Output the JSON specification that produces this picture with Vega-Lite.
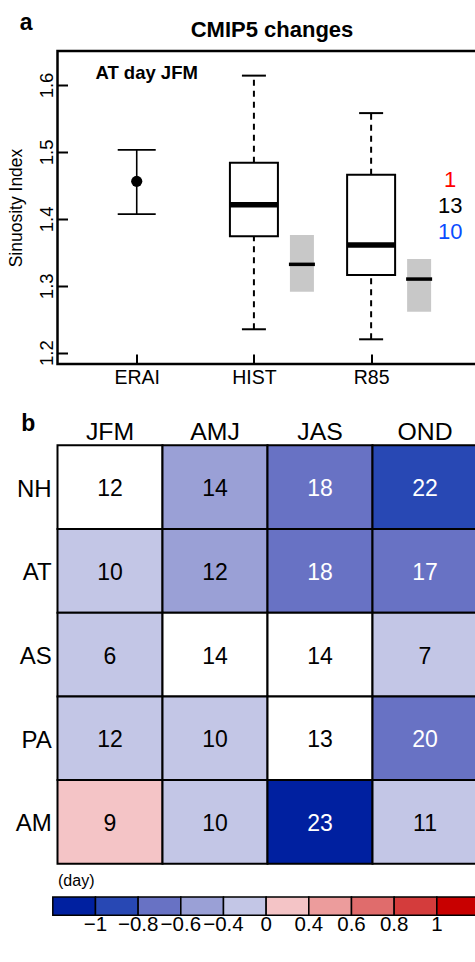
{
  "$schema": "https://vega.github.io/schema/vega-lite/v6.json",
  "background": "white",
  "padding": {"left": 5.5, "top": 10, "right": 0, "bottom": 0},
  "autosize": {"type": "pad"},
  "bounds": "flush",
  "spacing": 81.3,
  "resolve": {"scale": {"color": "independent"}, "legend": {"color": "independent"}},
  "config": {
    "font": "Liberation Sans",
    "view": {"stroke": null},
    "axis": {"labelColor": "black", "titleColor": "black", "grid": false, "labelFont": "Liberation Sans", "titleFont": "Liberation Sans"},
    "title": {"color": "black", "font": "Liberation Sans"},
    "legend": {"labelFont": "Liberation Sans", "titleFont": "Liberation Sans"}
  },
  "datasets": {
    "boxes": [
      {"group": "HIST", "pos": 2, "lower": 1.235, "q1": 1.374, "median": 1.421, "q3": 1.484, "upper": 1.614},
      {"group": "R85", "pos": 3, "lower": 1.220, "q1": 1.316, "median": 1.361, "q3": 1.466, "upper": 1.558}
    ],
    "mme": [
      {"group": "HIST", "pos": 2, "low": 1.291, "mid": 1.332, "high": 1.376},
      {"group": "R85", "pos": 3, "low": 1.261, "mid": 1.310, "high": 1.340}
    ],
    "obs": [
      {"group": "ERAI", "pos": 1, "low": 1.407, "mean": 1.456, "high": 1.503}
    ],
    "counts": [
      {"trend": "increase", "n": 1, "ypos": 1.458},
      {"trend": "no change", "n": 13, "ypos": 1.419},
      {"trend": "decrease", "n": 10, "ypos": 1.380}
    ],
    "cells": [
      {"region": "NH", "season": "JFM", "days": 12, "sdclass": 5, "sig": false},
      {"region": "NH", "season": "AMJ", "days": 14, "sdclass": 4, "sig": true},
      {"region": "NH", "season": "JAS", "days": 18, "sdclass": 3, "sig": true},
      {"region": "NH", "season": "OND", "days": 22, "sdclass": 2, "sig": true},
      {"region": "AT", "season": "JFM", "days": 10, "sdclass": 5, "sig": true},
      {"region": "AT", "season": "AMJ", "days": 12, "sdclass": 4, "sig": true},
      {"region": "AT", "season": "JAS", "days": 18, "sdclass": 3, "sig": true},
      {"region": "AT", "season": "OND", "days": 17, "sdclass": 3, "sig": true},
      {"region": "AS", "season": "JFM", "days": 6, "sdclass": 5, "sig": true},
      {"region": "AS", "season": "AMJ", "days": 14, "sdclass": 5, "sig": false},
      {"region": "AS", "season": "JAS", "days": 14, "sdclass": 5, "sig": false},
      {"region": "AS", "season": "OND", "days": 7, "sdclass": 5, "sig": true},
      {"region": "PA", "season": "JFM", "days": 12, "sdclass": 5, "sig": true},
      {"region": "PA", "season": "AMJ", "days": 10, "sdclass": 5, "sig": true},
      {"region": "PA", "season": "JAS", "days": 13, "sdclass": 5, "sig": false},
      {"region": "PA", "season": "OND", "days": 20, "sdclass": 3, "sig": true},
      {"region": "AM", "season": "JFM", "days": 9, "sdclass": 6, "sig": true},
      {"region": "AM", "season": "AMJ", "days": 10, "sdclass": 5, "sig": true},
      {"region": "AM", "season": "JAS", "days": 23, "sdclass": 1, "sig": true},
      {"region": "AM", "season": "OND", "days": 11, "sdclass": 5, "sig": true}
    ]
  },
  "vconcat": [
    {
      "width": 428,
      "height": 313,
      "view": {"stroke": "black", "strokeWidth": 2.5},
      "title": {"text": "a", "anchor": "start", "frame": "bounds", "fontSize": 23, "fontWeight": "bold", "baseline": "top", "offset": -16, "dx": 12.8},
      "resolve": {"axis": {"x": "independent"}},
      "layer": [
        {
          "data": {"name": "boxes"},
          "mark": {"type": "rule", "strokeDash": [6, 5], "strokeWidth": 2, "color": "black", "opacity": 1},
          "encoding": {
            "x": {"field": "pos", "type": "quantitative", "scale": {"domain": [0.3667, 3.9333], "nice": false, "zero": false},
              "axis": {"orient": "bottom", "values": [1, 2, 3], "labelExpr": "datum.value == 1 ? 'ERAI' : datum.value == 2 ? 'HIST' : 'R85'", "title": null, "domain": false, "grid": false, "tickSize": -10, "tickWidth": 2, "tickColor": "black", "labelFontSize": 19.5, "labelPadding": 14.3}},
            "y": {"field": "q3", "type": "quantitative", "scale": {"domain": [1.1831, 1.6508], "nice": false, "zero": false},
              "axis": {"values": [1.2, 1.3, 1.4, 1.5, 1.6], "format": ".1f", "title": "Sinuosity Index", "titleFontSize": 17.5, "titleFontWeight": "normal", "titlePadding": 12.5, "labelAngle": -90, "labelAlign": "center", "labelBaseline": "bottom", "tickSize": -10, "tickWidth": 2, "tickColor": "black", "domain": false, "grid": false, "labelFontSize": 18.5, "labelPadding": 11}},
            "y2": {"field": "upper"}
          }
        },
        {
          "data": {"name": "boxes"},
          "mark": {"type": "rule", "strokeDash": [6, 5], "strokeWidth": 2, "color": "black", "opacity": 1},
          "encoding": {
            "x": {"field": "pos", "type": "quantitative", "axis": null},
            "y": {"field": "lower", "type": "quantitative"},
            "y2": {"field": "q1"}
          }
        },
        {
          "data": {"name": "boxes"},
          "mark": {"type": "tick", "orient": "horizontal", "size": 24, "thickness": 2, "color": "black", "opacity": 1},
          "encoding": {
            "x": {"field": "pos", "type": "quantitative", "axis": null},
            "y": {"field": "upper", "type": "quantitative"}
          }
        },
        {
          "data": {"name": "boxes"},
          "mark": {"type": "tick", "orient": "horizontal", "size": 24, "thickness": 2, "color": "black", "opacity": 1},
          "encoding": {
            "x": {"field": "pos", "type": "quantitative", "axis": null},
            "y": {"field": "lower", "type": "quantitative"}
          }
        },
        {
          "data": {"name": "boxes"},
          "mark": {"type": "bar", "size": 48, "fill": "white", "stroke": "black", "strokeWidth": 2, "opacity": 1},
          "encoding": {
            "x": {"field": "pos", "type": "quantitative", "axis": null},
            "y": {"field": "q1", "type": "quantitative"},
            "y2": {"field": "q3"}
          }
        },
        {
          "data": {"name": "boxes"},
          "mark": {"type": "tick", "orient": "horizontal", "size": 48, "thickness": 5.5, "color": "black", "opacity": 1},
          "encoding": {
            "x": {"field": "pos", "type": "quantitative", "axis": null},
            "y": {"field": "median", "type": "quantitative"}
          }
        },
        {
          "data": {"name": "mme"},
          "mark": {"type": "bar", "size": 24, "xOffset": 48, "fill": "#c8c8c8", "opacity": 1},
          "encoding": {
            "x": {"field": "pos", "type": "quantitative",
              "axis": {"orient": "top", "title": "CMIP5 changes", "titleFontSize": 22, "titleFontWeight": "bold", "titlePadding": 9.5, "labels": false, "ticks": false, "tickSize": 0, "domain": false, "grid": false}},
            "y": {"field": "low", "type": "quantitative"},
            "y2": {"field": "high"}
          }
        },
        {
          "data": {"name": "mme"},
          "mark": {"type": "tick", "orient": "horizontal", "size": 26, "thickness": 3.5, "xOffset": 48, "color": "black", "opacity": 1},
          "encoding": {
            "x": {"field": "pos", "type": "quantitative", "axis": null},
            "y": {"field": "mid", "type": "quantitative"}
          }
        },
        {
          "data": {"name": "obs"},
          "mark": {"type": "rule", "strokeWidth": 1.6, "color": "black", "opacity": 1},
          "encoding": {
            "x": {"field": "pos", "type": "quantitative", "axis": null},
            "y": {"field": "low", "type": "quantitative"},
            "y2": {"field": "high"}
          }
        },
        {
          "data": {"name": "obs"},
          "mark": {"type": "tick", "orient": "horizontal", "size": 38, "thickness": 1.6, "color": "black", "opacity": 1},
          "encoding": {
            "x": {"field": "pos", "type": "quantitative", "axis": null},
            "y": {"field": "low", "type": "quantitative"}
          }
        },
        {
          "data": {"name": "obs"},
          "mark": {"type": "tick", "orient": "horizontal", "size": 38, "thickness": 1.6, "color": "black", "opacity": 1},
          "encoding": {
            "x": {"field": "pos", "type": "quantitative", "axis": null},
            "y": {"field": "high", "type": "quantitative"}
          }
        },
        {
          "data": {"name": "obs"},
          "mark": {"type": "circle", "size": 125, "color": "black", "opacity": 1},
          "encoding": {
            "x": {"field": "pos", "type": "quantitative", "axis": null},
            "y": {"field": "mean", "type": "quantitative"}
          }
        },
        {
          "data": {"values": [{"label": "AT day JFM"}]},
          "mark": {"type": "text", "align": "left", "baseline": "middle", "fontSize": 18.5, "fontWeight": "bold", "color": "black"},
          "encoding": {
            "x": {"datum": 0.6475, "type": "quantitative", "axis": null},
            "y": {"datum": 1.6175, "type": "quantitative"},
            "text": {"field": "label"}
          }
        },
        {
          "data": {"name": "counts"},
          "mark": {"type": "text", "align": "center", "baseline": "middle", "fontSize": 22},
          "encoding": {
            "x": {"datum": 3.675, "type": "quantitative", "axis": null},
            "y": {"field": "ypos", "type": "quantitative"},
            "text": {"field": "n", "type": "quantitative"},
            "color": {"field": "trend", "type": "nominal", "scale": {"domain": ["increase", "no change", "decrease"], "range": ["#ff0000", "#000000", "#0a4cff"]}, "legend": null}
          }
        }
      ]
    },
    {
      "width": 420,
      "height": 418.5,
      "data": {"name": "cells"},
      "title": {"text": "b", "anchor": "start", "frame": "bounds", "fontSize": 23, "fontWeight": "bold", "baseline": "top", "offset": -16.8, "dx": 6},
      "resolve": {"axis": {"x": "independent"}},
      "layer": [
        {
          "mark": {"type": "rect", "stroke": "black", "strokeWidth": 2, "opacity": 1},
          "encoding": {
            "x": {"field": "season", "type": "nominal", "sort": ["JFM", "AMJ", "JAS", "OND"], "scale": {"paddingInner": 0, "paddingOuter": 0},
              "axis": {"orient": "top", "title": null, "domain": false, "ticks": false, "tickSize": 0, "labelAngle": 0, "labelFontSize": 24.8, "labelPadding": 1.1}},
            "y": {"field": "region", "type": "nominal", "sort": ["NH", "AT", "AS", "PA", "AM"], "scale": {"paddingInner": 0, "paddingOuter": 0},
              "axis": {"title": null, "domain": false, "ticks": false, "tickSize": 0, "labelFontSize": 24, "labelPadding": 6.3, "labelOffset": 2.5}},
            "color": {
              "condition": {"test": "!datum.sig", "value": "white"},
              "field": "sdclass", "type": "quantitative",
              "scale": {"type": "threshold", "domain": [2, 3, 4, 5, 6, 7, 8, 9, 10], "range": ["#0020a0", "#2848b4", "#6872c4", "#9aa0d6", "#c3c6e6", "#f4c4c6", "#ec9c9c", "#e06c6c", "#d43c3c", "#c80000"]},
              "legend": {"type": "gradient", "orient": "none", "legendX": -4.7, "legendY": 451.7, "direction": "horizontal", "gradientLength": 426.7, "gradientThickness": 18.3, "gradientStrokeColor": "black", "gradientStrokeWidth": 1.5, "labelFontSize": 20.5, "labelColor": "black", "labelOffset": 0, "labelOverlap": false, "labelExpr": "['−1','−0.8','−0.6','−0.4','0','0.4','0.6','0.8','1'][datum.value - 2]", "title": "RCP85 change in SD", "titleOrient": "bottom", "titleAnchor": "middle", "titleFontSize": 20.5, "titleFontWeight": "normal", "titleColor": "black", "titlePadding": 25, "titleLimit": 0}
            }
          }
        },
        {
          "mark": {"type": "text", "fontSize": 23, "dy": 2, "baseline": "middle"},
          "encoding": {
            "x": {"field": "season", "type": "nominal", "sort": ["JFM", "AMJ", "JAS", "OND"],
              "axis": {"orient": "bottom", "title": "(day)", "titleAnchor": "start", "titleFontSize": 16, "titleFontWeight": "normal", "titlePadding": 8.3, "labels": false, "ticks": false, "tickSize": 0, "domain": false}},
            "y": {"field": "region", "type": "nominal", "sort": ["NH", "AT", "AS", "PA", "AM"]},
            "text": {"field": "days", "type": "quantitative"},
            "color": {"condition": {"test": "datum.sig && datum.sdclass <= 3", "value": "white"}, "value": "black"}
          }
        }
      ]
    }
  ]
}
